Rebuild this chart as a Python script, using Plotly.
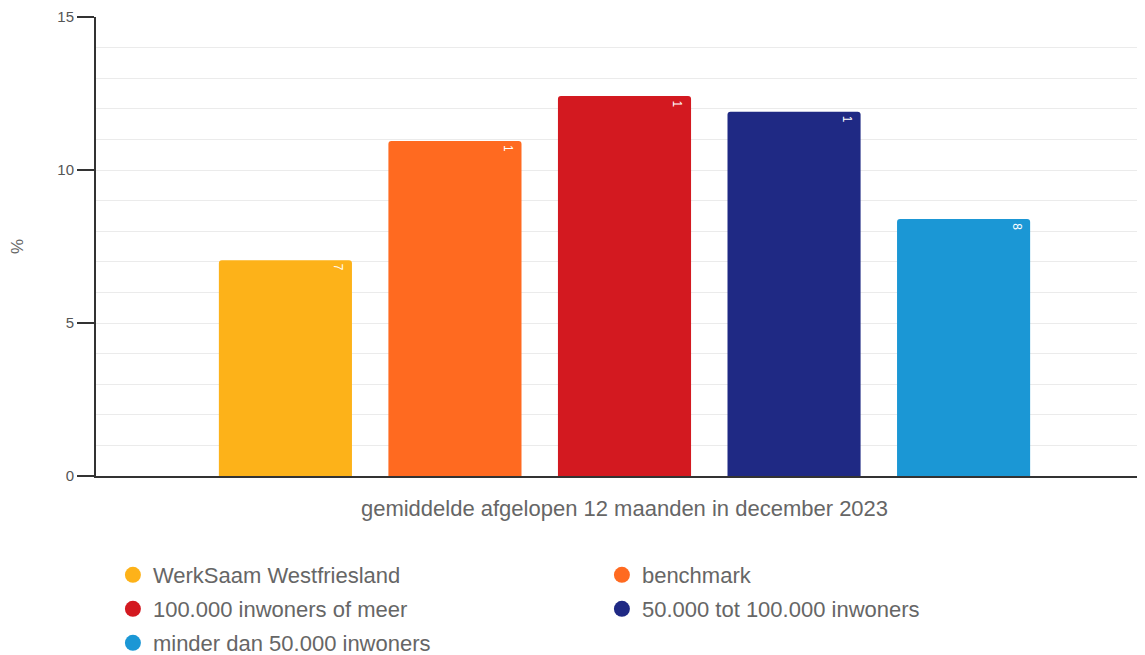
import plotly.graph_objects as go

# ---- data ----
category = ["gemiddelde afgelopen 12 maanden in december 2023"]
series_names = [
    "WerkSaam Westfriesland",
    "benchmark",
    "100.000 inwoners of meer",
    "50.000 tot 100.000 inwoners",
    "minder dan 50.000 inwoners",
]
series_values = [7.05, 10.95, 12.42, 11.9, 8.4]
# labels as shown in the reference (truncated to first character)
series_labels = [f"{v:.1f}"[0] for v in series_values]
y_ticks = [0, 5, 10, 15]

colors = ["#FDB219", "#FF6A20", "#D31920", "#1F2984", "#1B97D5"]
legend_rows = ["legend", "legend", "legend2", "legend2", "legend3"]

FONT = "Liberation Sans, Arial, sans-serif"
BARGAP = 0.198
BARGROUPGAP = 0.215
XRANGE = [-0.5, 0.5]
ML, MR, MT, MB = 88, 0, 9, 187
W, H = 1145, 655

fig = go.Figure()
for name, val, col in zip(series_names, series_values, colors):
    fig.add_trace(go.Bar(
        x=category, y=[val], name=name, marker=dict(color=col, line=dict(width=0)),
        showlegend=False, hoverinfo="y+name",
    ))
# legend entries with circular markers
for name, col, lg in zip(series_names, colors, legend_rows):
    fig.add_trace(go.Scatter(
        x=[None], y=[None], mode="markers", name=name, legend=lg,
        marker=dict(color=col, size=16, symbol="circle"), showlegend=True,
    ))

# value labels rotated at top right of each bar
W_plot = W - ML - MR
unit_px = W_plot / (XRANGE[1] - XRANGE[0])
pitch_px = (1 - BARGAP) / len(series_values) * unit_px
barw_px = pitch_px * (1 - BARGROUPGAP)
n = len(series_values)
for i, (val, lab) in enumerate(zip(series_values, series_labels)):
    fig.add_annotation(
        x=category[0], y=val, text=lab, showarrow=False, textangle=90,
        xref="x", yref="y", yanchor="top", xanchor="center",
        xshift=(i - (n - 1) / 2) * pitch_px + barw_px / 2 - 14, yshift=-2,
        font=dict(color="white", size=12, family=FONT),
    )

def legend_style(ycenter_px):
    return dict(
        orientation="h", xref="paper", x=0.016, xanchor="left",
        yref="container", y=1 - ycenter_px / H, yanchor="middle",
        entrywidth=444, entrywidthmode="pixels",
        font=dict(size=22, color="#666666", family=FONT),
        itemsizing="trace", bgcolor="rgba(0,0,0,0)",
    )

fig.update_layout(
    width=W, height=H,
    margin=dict(l=ML, r=MR, t=MT, b=MB, autoexpand=False),
    plot_bgcolor="white", paper_bgcolor="white",
    barmode="group", bargap=BARGAP, bargroupgap=BARGROUPGAP,
    barcornerradius=3,
    font=dict(family=FONT, color="#666666"),
    showlegend=True,
    legend=legend_style(567),
    legend2=legend_style(601),
    legend3=legend_style(635),
)

fig.update_xaxes(
    range=XRANGE, showline=True, linecolor="#333333", linewidth=2,
    ticks="", tickfont=dict(size=22, color="#666666"), showgrid=False,
    ticklabelstandoff=12,
    zeroline=False, fixedrange=True, automargin=False,
)
fig.update_yaxes(
    range=[0, 15], tickvals=y_ticks, ticks="outside", ticklen=17, tickwidth=2,
    tickcolor="#333333", showline=True, linecolor="#333333", linewidth=2,
    tickfont=dict(size=15, color="#555555"),
    showgrid=True, gridcolor="#ebebeb", gridwidth=1,
    minor=dict(dtick=1, showgrid=True, gridcolor="#ebebeb", gridwidth=1, ticks=""),
    zeroline=False, automargin=False,
    title=dict(text="%", font=dict(size=17, color="#666666"), standoff=55),
)

fig.write_html("out.html")
